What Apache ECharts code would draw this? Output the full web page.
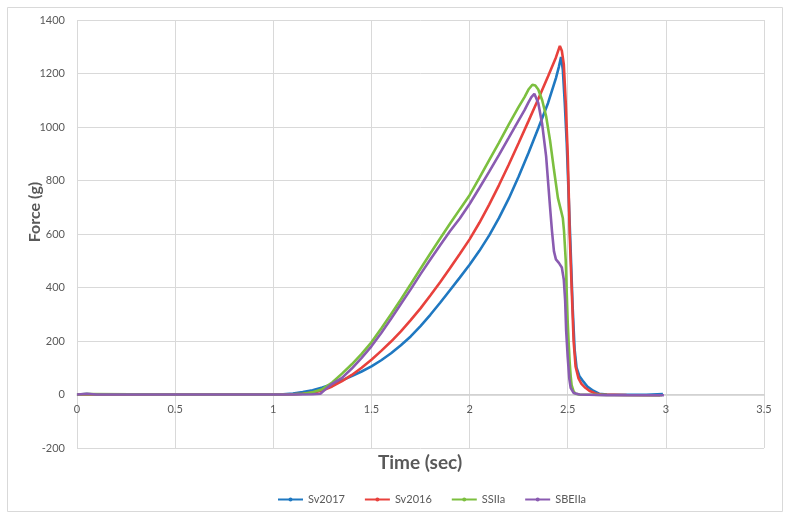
<!DOCTYPE html>
<html>
<head>
<meta charset="utf-8">
<script src="https://cdn.jsdelivr.net/npm/echarts@6/dist/echarts.min.js"></script>
<style>html,body{margin:0;padding:0;background:#fff;}#c{width:790px;height:519px;}</style>
</head>
<body>
<div id="c"></div>
<script>
var xTicks = [0, 0.5, 1, 1.5, 2, 2.5, 3, 3.5];
var yTicks = [-200, 0, 200, 400, 600, 800, 1000, 1200, 1400];
var seriesNames = ['Sv2017', 'Sv2016', 'SSIIa', 'SBEIIa'];

var sv2017 = [[0,0],[0.05,2],[0.1,0],[0.5,0],[1.0,0],[1.05,1],[1.1,4],[1.15,9],[1.2,16],[1.25,26],[1.3,38],[1.35,53],[1.4,69],[1.45,86],[1.5,105],[1.55,128],[1.6,154],[1.65,184],[1.7,217],[1.75,256],[1.8,298],[1.85,343],[1.9,390],[1.95,437],[2.0,485],[2.05,537],[2.1,595],[2.15,660],[2.2,733],[2.25,815],[2.3,903],[2.35,995],[2.4,1090],[2.44,1183],[2.455,1225],[2.466,1262],[2.475,1215],[2.485,1090],[2.495,940],[2.505,740],[2.515,540],[2.525,330],[2.535,170],[2.545,100],[2.56,68],[2.58,48],[2.6,30],[2.63,14],[2.66,3],[2.7,0],[2.8,-1],[2.9,-1],[2.985,2]];

var sv2016 = [[0,0],[0.05,1],[0.5,0],[1.0,0],[1.1,1],[1.15,3],[1.2,7],[1.25,15],[1.3,30],[1.35,50],[1.4,73],[1.45,100],[1.5,130],[1.55,163],[1.6,198],[1.65,236],[1.7,278],[1.75,322],[1.8,370],[1.85,420],[1.9,472],[1.95,525],[2.0,580],[2.05,642],[2.1,710],[2.15,783],[2.2,860],[2.25,940],[2.3,1022],[2.35,1105],[2.4,1190],[2.44,1260],[2.46,1303],[2.47,1285],[2.48,1235],[2.49,1090],[2.5,900],[2.505,760],[2.51,600],[2.52,400],[2.53,200],[2.54,105],[2.555,60],[2.57,40],[2.59,25],[2.61,14],[2.64,4],[2.67,0],[2.8,-2],[2.97,-3]];

var ssIIa = [[0,0],[0.05,2],[0.5,0],[1.0,0],[1.1,1],[1.15,3],[1.2,8],[1.25,20],[1.3,45],[1.35,78],[1.4,113],[1.45,152],[1.5,195],[1.55,247],[1.6,300],[1.65,355],[1.7,412],[1.75,470],[1.8,527],[1.85,583],[1.9,638],[1.95,692],[2.0,745],[2.05,810],[2.1,876],[2.15,942],[2.2,1010],[2.25,1075],[2.28,1112],[2.3,1140],[2.32,1158],[2.335,1155],[2.35,1140],[2.37,1100],[2.39,1040],[2.41,950],[2.43,840],[2.45,735],[2.465,690],[2.475,660],[2.481,613],[2.49,500],[2.495,380],[2.5,270],[2.505,190],[2.51,120],[2.515,70],[2.52,35],[2.53,12],[2.54,3],[2.56,0],[2.7,-2],[2.98,-3]];

var sbeIIa = [[0,0],[0.05,3],[0.1,0],[0.5,0],[1.0,0],[1.1,0],[1.2,1],[1.24,3],[1.27,22],[1.3,40],[1.35,62],[1.4,97],[1.45,137],[1.5,180],[1.55,230],[1.6,283],[1.65,338],[1.7,393],[1.75,450],[1.8,505],[1.85,558],[1.9,610],[1.95,658],[2.0,712],[2.05,772],[2.1,833],[2.15,896],[2.2,960],[2.25,1025],[2.28,1063],[2.3,1092],[2.315,1112],[2.33,1124],[2.34,1118],[2.35,1090],[2.37,1010],[2.39,890],[2.41,700],[2.42,610],[2.43,535],[2.44,505],[2.455,492],[2.47,475],[2.48,430],[2.487,350],[2.492,240],[2.5,140],[2.508,60],[2.515,25],[2.53,6],[2.56,0],[2.7,-3],[2.99,-3]];

var seriesData = [sv2017, sv2016, ssIIa, sbeIIa];
var colors = ['#1f78c1', '#e8413c', '#7cbf3f', '#8a5bb1'];

var chart = echarts.init(document.getElementById('c'), null, {renderer: 'canvas'});
var FONT = 'Lato, "Liberation Sans", sans-serif';
var GRID_TOP = 20, GRID_BOTTOM = 71, H = 519;
var plotH = H - GRID_TOP - GRID_BOTTOM;
var yMin = yTicks[0], yMax = yTicks[yTicks.length - 1];
// shift the x axis (line + labels) up to the y = 0 crossing, as in the source chart
var zeroOffset = -plotH * (0 - yMin) / (yMax - yMin);

var option = {
  backgroundColor: '#fff',
  animation: false,
  textStyle: {fontFamily: FONT},
  graphic: [
    {type: 'rect', shape: {x: 7.5, y: 7.5, width: 775, height: 504}, style: {fill: 'none', stroke: '#d9d9d9', lineWidth: 1}, z: -1},
    {type: 'text', x: 35, y: 212, rotation: Math.PI / 2,
      style: {text: 'Force (g)', font: 'bold 16px ' + FONT, fill: '#595959', textAlign: 'center', textVerticalAlign: 'middle'}},
    {type: 'text', x: 420, y: 463,
      style: {text: 'Time (sec)', font: 'bold 19px ' + FONT, fill: '#595959', textAlign: 'center', textVerticalAlign: 'middle'}}
  ],
  grid: {left: 77, right: 26, top: GRID_TOP, bottom: GRID_BOTTOM, containLabel: false},
  legend: {
    data: seriesNames,
    left: 272, top: 489,
    itemWidth: 25, itemHeight: 5, itemGap: 19,
    textStyle: {color: '#595959', fontSize: 11, fontFamily: FONT}
  },
  xAxis: {
    type: 'value', min: xTicks[0], max: xTicks[xTicks.length - 1], interval: 0.5,
    offset: zeroOffset,
    axisLine: {onZero: false, lineStyle: {color: '#d0d0d0', width: 1.5}},
    axisTick: {show: false},
    axisLabel: {color: '#595959', fontSize: 11, margin: 9},
    splitLine: {show: true, lineStyle: {color: '#d9d9d9', width: 1}}
  },
  yAxis: {
    type: 'value', min: yMin, max: yMax, interval: 200,
    axisLine: {show: false},
    axisTick: {show: false},
    axisLabel: {color: '#595959', fontSize: 11, margin: 12, formatter: function (v) { return String(v); }},
    splitLine: {show: true, lineStyle: {color: '#d9d9d9', width: 1}}
  },
  series: seriesNames.map(function (n, i) {
    return {
      name: n, type: 'line', data: seriesData[i],
      color: colors[i],
      symbol: 'circle', symbolSize: 4, showSymbol: false,
      lineStyle: {width: 2.6, color: colors[i]},
      itemStyle: {color: colors[i]},
      smooth: false
    };
  })
};
chart.setOption(option);
</script>
</body>
</html>
